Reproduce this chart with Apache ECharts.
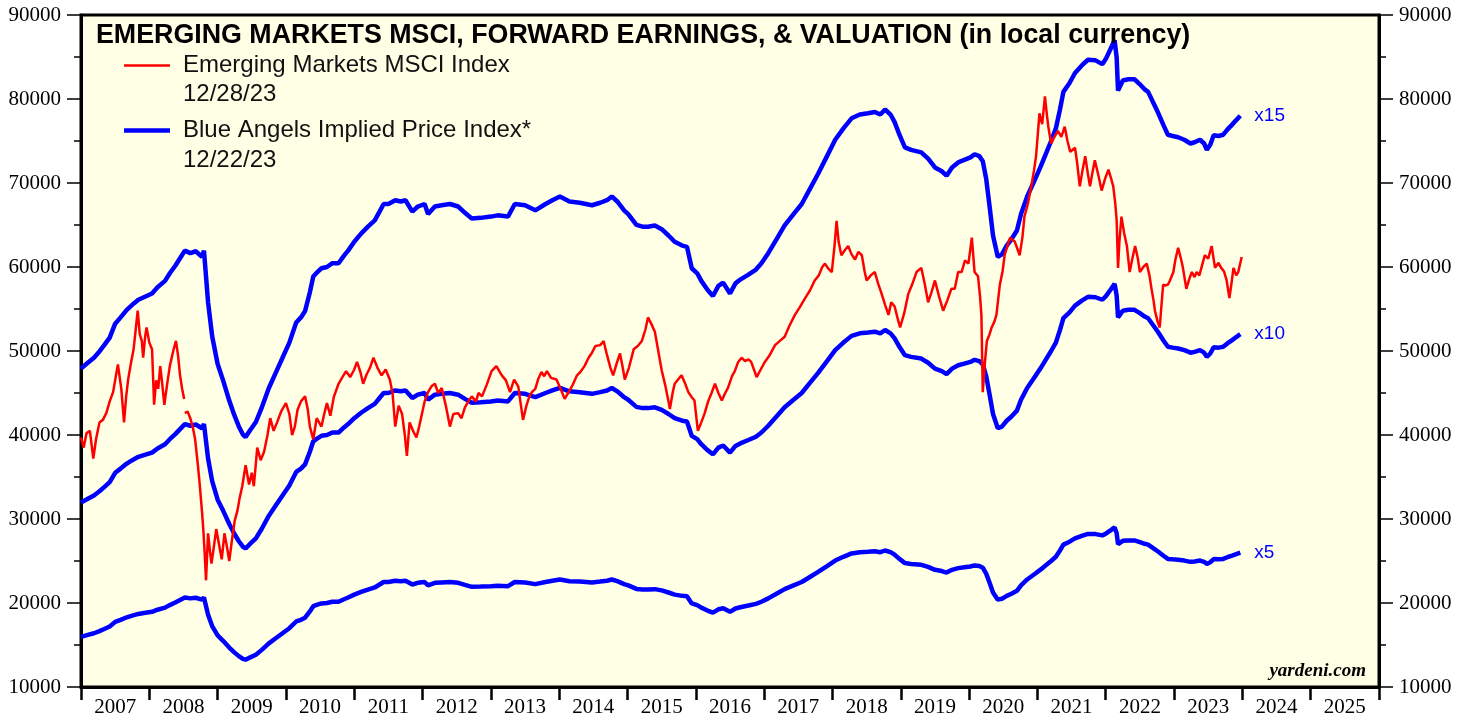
<!DOCTYPE html>
<html>
<head>
<meta charset="utf-8">
<script src="https://cdn.jsdelivr.net/npm/echarts@6/dist/echarts.min.js"></script>
<style>
html, body { margin: 0; padding: 0; background: #fff; }
#main { width: 1469px; height: 719px; }
</style>
</head>
<body>
<div id="main"></div>
<script>
// year labels on the bottom axis
var years = ['2007','2008','2009','2010','2011','2012','2013','2014','2015','2016',
             '2017','2018','2019','2020','2021','2022','2023','2024','2025'];

// blue angels multiples
var multiples = [15, 10, 5];

// forward earnings (index units), [year fraction, value]
var fwdEarnings = [
[2007.00,3195],[2007.10,3240],[2007.19,3280],[2007.27,3330],[2007.34,3380],[2007.42,3440],
[2007.50,3550],[2007.58,3600],[2007.67,3660],[2007.75,3700],[2007.84,3740],[2007.92,3760],
[2008.04,3790],[2008.12,3840],[2008.23,3890],[2008.30,3950],[2008.38,4010],[2008.45,4070],
[2008.52,4130],[2008.60,4110],[2008.68,4125],[2008.77,4080],[2008.80,4130],[2008.86,3720],
[2008.92,3450],[2009.00,3230],[2009.08,3100],[2009.17,2940],[2009.24,2830],[2009.31,2735],
[2009.37,2670],[2009.41,2650],[2009.47,2700],[2009.56,2770],[2009.65,2890],[2009.75,3040],
[2009.85,3160],[2009.95,3280],[2010.05,3400],[2010.15,3560],[2010.22,3600],[2010.28,3650],
[2010.35,3800],[2010.40,3925],[2010.46,3960],[2010.52,3990],[2010.60,4000],[2010.68,4030],
[2010.77,4030],[2010.85,4090],[2010.91,4130],[2011.00,4200],[2011.10,4265],[2011.20,4320],
[2011.30,4370],[2011.37,4440],[2011.43,4500],[2011.50,4500],[2011.60,4530],[2011.68,4520],
[2011.75,4530],[2011.85,4440],[2011.93,4480],[2012.03,4500],[2012.08,4420],[2012.18,4480],
[2012.28,4490],[2012.40,4500],[2012.52,4480],[2012.62,4430],[2012.72,4385],[2012.85,4390],
[2013.00,4400],[2013.10,4410],[2013.25,4400],[2013.35,4500],[2013.50,4490],[2013.65,4450],
[2013.80,4500],[2013.90,4530],[2014.01,4560],[2014.15,4520],[2014.30,4510],[2014.48,4490],
[2014.60,4510],[2014.70,4530],[2014.77,4560],[2014.85,4520],[2014.95,4450],[2015.01,4420],
[2015.13,4335],[2015.22,4320],[2015.30,4320],[2015.40,4330],[2015.50,4300],[2015.60,4250],
[2015.69,4200],[2015.80,4170],[2015.87,4160],[2015.94,3990],[2016.02,3950],[2016.08,3890],
[2016.17,3820],[2016.25,3770],[2016.33,3850],[2016.40,3875],[2016.50,3790],[2016.58,3870],
[2016.65,3900],[2016.77,3940],[2016.88,3980],[2016.96,4030],[2017.06,4110],[2017.18,4220],
[2017.30,4330],[2017.43,4420],[2017.55,4500],[2017.67,4620],[2017.79,4740],[2017.92,4880],
[2018.04,5010],[2018.16,5100],[2018.28,5180],[2018.40,5210],[2018.52,5220],[2018.62,5230],
[2018.70,5210],[2018.77,5250],[2018.85,5210],[2018.91,5150],[2018.98,5050],[2019.06,4950],
[2019.15,4930],[2019.30,4910],[2019.40,4860],[2019.50,4790],[2019.60,4760],[2019.67,4725],
[2019.75,4790],[2019.84,4830],[2019.93,4850],[2020.02,4870],[2020.08,4895],[2020.15,4880],
[2020.20,4840],[2020.25,4700],[2020.30,4480],[2020.35,4250],[2020.42,4080],[2020.48,4100],
[2020.55,4170],[2020.62,4220],[2020.70,4290],[2020.76,4420],[2020.85,4560],[2020.96,4690],
[2021.05,4800],[2021.11,4880],[2021.20,5000],[2021.27,5100],[2021.33,5250],[2021.38,5390],
[2021.47,5460],[2021.55,5540],[2021.65,5600],[2021.74,5645],[2021.85,5640],[2021.95,5610],
[2022.00,5650],[2022.07,5730],[2022.13,5800],[2022.16,5660],[2022.18,5400],[2022.25,5480],
[2022.33,5490],[2022.42,5490],[2022.50,5450],[2022.57,5410],[2022.62,5390],[2022.70,5300],
[2022.77,5220],[2022.85,5120],[2022.91,5050],[2022.98,5040],[2023.06,5030],[2023.15,5010],
[2023.24,4980],[2023.30,4990],[2023.38,5010],[2023.44,4980],[2023.48,4930],[2023.53,4970],
[2023.58,5045],[2023.65,5040],[2023.72,5050],[2023.78,5090],[2023.85,5130],[2023.90,5160],
[2023.97,5200]
];

// MSCI EM index (local currency), [year fraction, value]
var msciIndex = [
[2007.00,39700],[2007.04,38500],[2007.08,40200],[2007.13,40500],[2007.18,37200],[2007.22,39500],
[2007.27,41500],[2007.32,41800],[2007.37,42600],[2007.42,44000],[2007.47,45100],[2007.51,47000],
[2007.54,48400],[2007.59,45500],[2007.63,41500],[2007.66,44500],[2007.69,46600],[2007.73,48500],
[2007.77,50200],[2007.80,52500],[2007.83,54800],[2007.86,52000],[2007.89,51200],[2007.91,49200],
[2007.94,51800],[2007.96,52800],[2008.00,51000],[2008.04,50200],[2008.07,43600],[2008.10,46500],
[2008.13,45500],[2008.16,48200],[2008.19,46000],[2008.22,43600],[2008.26,46000],[2008.30,48200],
[2008.35,50000],[2008.39,51200],[2008.42,49500],[2008.45,47100],[2008.48,45500],[2008.51,44300],
[2008.515,null],
[2008.52,42600],[2008.56,42800],[2008.60,42000],[2008.64,40800],[2008.67,39500],[2008.71,36500],
[2008.74,33900],[2008.77,31000],[2008.79,28800],[2008.81,26000],[2008.83,22700],[2008.86,28300],
[2008.89,26000],[2008.91,24700],[2008.95,27000],[2008.98,28800],[2009.02,27000],[2009.06,25200],
[2009.10,28300],[2009.14,26500],[2009.17,25000],[2009.21,27500],[2009.25,29800],[2009.29,31000],
[2009.32,32400],[2009.36,33900],[2009.41,36400],[2009.46,34100],[2009.50,35500],[2009.53,33900],
[2009.58,38500],[2009.63,37000],[2009.68,38000],[2009.73,40000],[2009.77,42000],[2009.82,40500],
[2009.87,41500],[2009.93,42800],[2010.00,43800],[2010.05,42500],[2010.09,40000],[2010.13,41000],
[2010.17,43000],[2010.22,44000],[2010.28,44600],[2010.32,43000],[2010.35,41000],[2010.40,39500],
[2010.45,42000],[2010.52,41000],[2010.56,42500],[2010.60,43800],[2010.65,42300],[2010.70,44500],
[2010.77,46100],[2010.82,46800],[2010.88,47600],[2010.94,46900],[2011.00,47800],[2011.04,48700],
[2011.09,47500],[2011.13,46100],[2011.18,47200],[2011.23,48000],[2011.28,49200],[2011.34,48000],
[2011.40,47100],[2011.46,47800],[2011.52,46600],[2011.56,45000],[2011.60,41000],[2011.65,43500],
[2011.70,42500],[2011.74,40000],[2011.77,37500],[2011.81,41500],[2011.86,40500],[2011.91,39700],
[2011.95,41000],[2011.99,42500],[2012.03,44000],[2012.08,45100],[2012.13,45800],[2012.18,46100],
[2012.23,45000],[2012.28,45600],[2012.34,43500],[2012.40,41000],[2012.45,42500],[2012.52,42600],
[2012.57,42000],[2012.62,43300],[2012.67,44000],[2012.72,44600],[2012.78,44000],[2012.82,45000],
[2012.87,44600],[2012.94,46000],[2013.01,47600],[2013.08,48200],[2013.16,47100],[2013.22,46500],
[2013.28,45100],[2013.34,46600],[2013.40,45800],[2013.44,43500],[2013.47,41800],[2013.52,43500],
[2013.56,44500],[2013.60,45100],[2013.65,45500],[2013.69,46600],[2013.74,47500],[2013.78,47000],
[2013.82,47600],[2013.88,46800],[2013.96,46600],[2014.02,45500],[2014.08,44300],[2014.13,45000],
[2014.20,46000],[2014.26,47100],[2014.31,47500],[2014.37,48200],[2014.43,49200],[2014.48,49800],
[2014.53,50600],[2014.60,50700],[2014.65,51200],[2014.70,49500],[2014.75,48000],[2014.79,47100],
[2014.84,48500],[2014.89,49700],[2014.93,48000],[2014.96,46600],[2015.02,48000],[2015.09,50200],
[2015.15,50600],[2015.21,51200],[2015.26,52500],[2015.30,54000],[2015.35,53200],[2015.40,52300],
[2015.45,50000],[2015.50,47700],[2015.55,46000],[2015.60,44000],[2015.62,43100],[2015.66,45000],
[2015.69,46100],[2015.74,46600],[2015.79,47100],[2015.84,46200],[2015.89,45100],[2015.94,44500],
[2015.98,44100],[2016.03,40500],[2016.08,41500],[2016.13,42600],[2016.18,44000],[2016.23,45000],
[2016.28,46100],[2016.33,45000],[2016.38,44100],[2016.43,45000],[2016.47,45600],[2016.53,47000],
[2016.57,47600],[2016.62,48700],[2016.67,49200],[2016.72,48800],[2016.77,49000],[2016.81,48700],
[2016.85,47800],[2016.89,46900],[2016.95,47800],[2017.01,48700],[2017.08,49500],[2017.16,50700],
[2017.23,51200],[2017.30,51700],[2017.37,53000],[2017.45,54300],[2017.52,55200],[2017.60,56300],
[2017.67,57200],[2017.74,58400],[2017.80,59000],[2017.85,60000],[2017.89,60400],[2017.94,59800],
[2017.99,59400],[2018.03,62500],[2018.06,65500],[2018.09,63000],[2018.13,61400],[2018.18,62000],
[2018.23,62500],[2018.28,61500],[2018.33,60900],[2018.38,61800],[2018.43,61400],[2018.47,59500],
[2018.50,58400],[2018.56,59000],[2018.62,59400],[2018.67,58000],[2018.72,56800],[2018.77,55500],
[2018.82,54300],[2018.86,55800],[2018.91,55300],[2018.95,54000],[2018.99,52800],[2019.05,54500],
[2019.11,56800],[2019.17,58000],[2019.23,59400],[2019.30,59900],[2019.35,58000],[2019.40,55800],
[2019.45,57000],[2019.50,58400],[2019.56,56500],[2019.62,54800],[2019.68,56000],[2019.74,57400],
[2019.79,57400],[2019.84,59400],[2019.89,59400],[2019.94,60800],[2019.99,60400],[2020.04,63500],
[2020.08,59400],[2020.13,58900],[2020.16,56500],[2020.18,54300],[2020.20,45100],[2020.23,48500],
[2020.26,51200],[2020.30,52000],[2020.33,52800],[2020.37,53500],[2020.40,54300],[2020.45,57900],
[2020.49,59500],[2020.52,61400],[2020.56,62500],[2020.60,63500],[2020.67,63000],[2020.74,61400],
[2020.78,63500],[2020.81,66000],[2020.86,67500],[2020.91,69600],[2020.95,71500],[2020.98,73200],
[2021.03,78300],[2021.07,77000],[2021.11,80300],[2021.14,78000],[2021.16,76700],[2021.20,74700],
[2021.25,75500],[2021.30,76200],[2021.35,75500],[2021.40,76700],[2021.44,75000],[2021.48,73700],
[2021.55,74200],[2021.58,72500],[2021.62,69600],[2021.66,71500],[2021.70,73200],[2021.74,71000],
[2021.77,69600],[2021.80,71000],[2021.84,72700],[2021.89,71000],[2021.94,69100],[2021.99,70500],
[2022.04,71600],[2022.08,70500],[2022.11,69600],[2022.14,67500],[2022.16,65500],[2022.18,59900],
[2022.20,63000],[2022.23,66000],[2022.27,64000],[2022.31,62500],[2022.35,59400],[2022.39,61000],
[2022.43,62500],[2022.47,61000],[2022.50,59400],[2022.55,60000],[2022.60,60400],[2022.64,59000],
[2022.67,57400],[2022.70,56000],[2022.72,54800],[2022.76,53500],[2022.79,52800],[2022.84,57900],
[2022.87,57800],[2022.91,57900],[2022.94,58400],[2022.99,59400],[2023.02,60900],[2023.06,62300],
[2023.10,61000],[2023.13,59900],[2023.18,57400],[2023.22,58500],[2023.26,59400],[2023.30,58800],
[2023.33,59400],[2023.37,59000],[2023.40,59900],[2023.45,61400],[2023.50,61000],[2023.55,62500],
[2023.60,59900],[2023.65,60500],[2023.69,59900],[2023.73,59500],[2023.77,58400],[2023.81,56300],
[2023.84,58000],[2023.87,59900],[2023.91,59000],[2023.94,59400],[2023.99,61200]
];

var myChart = echarts.init(document.getElementById('main'));

var serif = '"Liberation Serif", "Times New Roman", serif';
var sans = '"Liberation Sans", Arial, sans-serif';
var redName = 'Emerging Markets MSCI Index';
var blueName = 'Blue Angels Implied Price Index*';

var series = [];
multiples.forEach(function(m){
    series.push({
        name: blueName,
        type: 'line',
        xAxisIndex: 1,
        showSymbol: false,
        symbol: 'none',
        lineStyle: { color: '#0000FF', width: 4.5 },
        itemStyle: { color: '#0000FF' },
        data: fwdEarnings.map(function(p){ return [p[0], p[1] * m]; }),
        endLabel: { show: true, formatter: 'x' + m, color: '#0000FF',
                    fontFamily: sans, fontSize: 19, distance: 14 },
        z: 2
    });
});
series.push({
    name: redName,
    type: 'line',
    xAxisIndex: 1,
    showSymbol: false,
    symbol: 'none',
    connectNulls: false,
    lineStyle: { color: '#FF0000', width: 2.5 },
    itemStyle: { color: '#FF0000' },
    data: msciIndex,
    z: 3
});

var yAxisBase = {
    type: 'value', min: 10000, max: 90000, interval: 10000,
    splitLine: { show: false },
    axisLine: { show: true, lineStyle: { color: '#000', width: 3 } },
    axisTick: { show: true, length: 14, lineStyle: { color: '#000', width: 1.5 } },
    minorTick: { show: true, splitNumber: 2, length: 7, lineStyle: { color: '#000', width: 1.5 } },
    axisLabel: { color: '#000', fontFamily: serif, fontSize: 21, margin: 20,
                 formatter: function(v){ return String(v); } }
};

var option = {
    animation: false,
    backgroundColor: '#fff',
    grid: {
        left: 81, right: 90, top: 15, bottom: 32,
        show: true, backgroundColor: '#FFFFE6', borderColor: '#000', borderWidth: 3
    },
    title: {
        text: 'EMERGING MARKETS MSCI, FORWARD EARNINGS, & VALUATION (in local currency)',
        left: 91, top: 17,
        textStyle: { fontFamily: sans, fontWeight: 'bold', fontSize: 26.8, color: '#000' }
    },
    legend: {
        orient: 'vertical',
        left: 119, top: 47,
        itemWidth: 46, itemHeight: 14, itemGap: 38,
        symbolKeepAspect: true,
        data: [
            { name: redName, icon: 'path://M0 0H46V2.5H0Z' },
            { name: blueName, icon: 'path://M0 0H46V4.5H0Z' }
        ],
        textStyle: { fontFamily: sans, fontSize: 24, color: '#111', lineHeight: 27,
                     padding: [0, 0, 0, 8] }
    },
    xAxis: [{
        type: 'category',
        data: years,
        boundaryGap: true,
        axisLine: { show: true, lineStyle: { color: '#000', width: 3 } },
        axisTick: { show: true, length: 13, lineStyle: { color: '#000', width: 2.5 } },
        axisLabel: { color: '#000', fontFamily: serif, fontSize: 21, margin: 10 },
        splitLine: { show: false }
    }, {
        type: 'value', min: 2007, max: 2026, show: false
    }],
    yAxis: [
        Object.assign({}, yAxisBase, { position: 'left' }),
        Object.assign({}, yAxisBase, { position: 'right' })
    ],
    graphic: [
        { type: 'text', left: 183, top: 82,
          style: { text: '12/28/23', font: '24px ' + sans, fill: '#111' } },
        { type: 'text', left: 183, top: 148,
          style: { text: '12/22/23', font: '24px ' + sans, fill: '#111' } },
        { type: 'text', right: 103, top: 662,
          style: { text: 'yardeni.com', font: 'italic bold 19px ' + serif, fill: '#000' } }
    ],
    series: series
};

myChart.setOption(option);
</script>
</body>
</html>
